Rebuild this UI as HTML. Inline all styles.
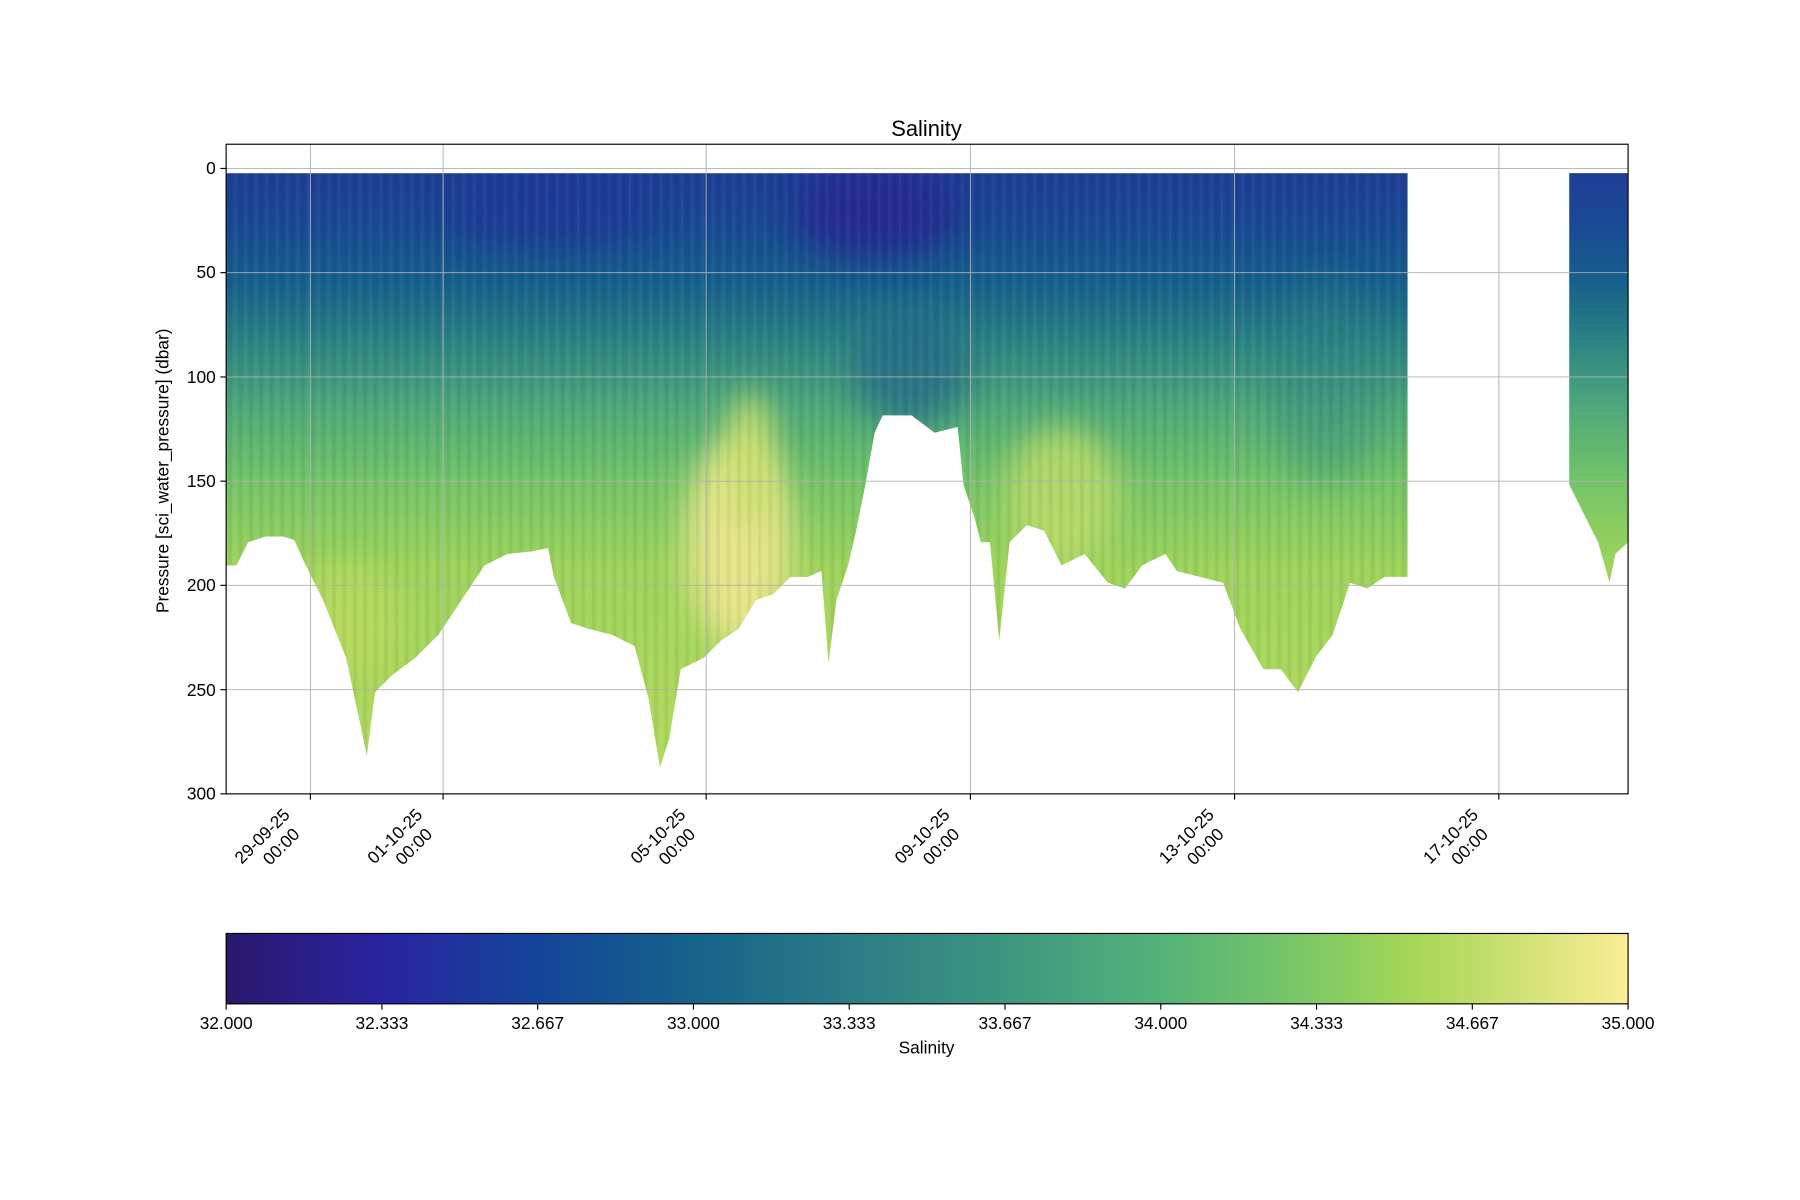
<!DOCTYPE html>
<html><head><meta charset="utf-8"><style>
html,body{margin:0;padding:0;background:#fff;}
svg{display:block;font-family:"Liberation Sans","DejaVu Sans",sans-serif;}
</style></head><body>
<svg width="1800" height="1200" viewBox="0 0 1560 1040" xmlns="http://www.w3.org/2000/svg">
<defs>
<linearGradient id="depth" gradientUnits="userSpaceOnUse" x1="0" y1="146" x2="0" y2="640">
<stop offset="0" stop-color="#1f3d96"/>
<stop offset="0.1" stop-color="#194a95"/>
<stop offset="0.2" stop-color="#16608c"/>
<stop offset="0.3" stop-color="#2a8284"/>
<stop offset="0.42" stop-color="#4ea97a"/>
<stop offset="0.55" stop-color="#74c468"/>
<stop offset="0.7" stop-color="#9ed45c"/>
<stop offset="1" stop-color="#b0d85c"/>
</linearGradient>
<linearGradient id="cb" x1="0" y1="0" x2="1" y2="0">
<stop offset="0" stop-color="#2a186c"/>
<stop offset="0.11" stop-color="#2a23a0"/>
<stop offset="0.22" stop-color="#14449a"/>
<stop offset="0.33" stop-color="#15628b"/>
<stop offset="0.44" stop-color="#2a7b86"/>
<stop offset="0.55" stop-color="#3c9580"/>
<stop offset="0.66" stop-color="#51b17a"/>
<stop offset="0.77" stop-color="#7bc866"/>
<stop offset="0.85" stop-color="#a8d756"/>
<stop offset="1" stop-color="#fbed96"/>
</linearGradient>
<pattern id="streak" width="9" height="40" patternUnits="userSpaceOnUse">
<rect x="0" y="0" width="3" height="40" fill="#000" opacity="0.05"/>
<rect x="5" y="0" width="2" height="40" fill="#fff" opacity="0.04"/>
</pattern>
<filter id="blur" x="-50%" y="-50%" width="200%" height="200%"><feGaussianBlur stdDeviation="14"/></filter>
<clipPath id="dataclip">
<path d="M196,150 L1220,150 L1220,500 L1200,500 L1185,510 L1170,505 L1155,550 L1140,570 L1125,600 L1110,580 L1095,580 L1075,545 L1060,505 L1040,500 L1020,495 L1010,480 L990,490 L975,510 L960,505 L940,480 L920,490 L905,460 L890,455 L875,470 L866,555 L858,470 L850,470 L845,450 L835,420 L830,370 L810,375 L790,360 L765,360 L758,375 L750,420 L742,460 L735,490 L725,520 L718,575 L712,495 L700,500 L685,500 L670,515 L655,520 L640,545 L625,555 L610,570 L590,580 L580,640 L572,665 L562,605 L550,560 L530,550 L510,545 L495,540 L480,500 L475,475 L460,478 L440,480 L420,490 L400,520 L380,550 L360,570 L340,585 L325,600 L318,655 L300,570 L280,520 L265,490 L255,468 L245,465 L230,465 L215,470 L205,490 L196,490 Z"/>
</clipPath>
</defs>
<rect width="1560" height="1040" fill="#fff"/>
<text x="803" y="118" font-size="19" text-anchor="middle">Salinity</text>
<g clip-path="url(#dataclip)">
<rect x="196" y="140" width="1030" height="540" fill="url(#depth)"/>
<ellipse cx="640" cy="470" rx="45" ry="90" fill="#e6e58a" filter="url(#blur)"/>
<ellipse cx="650" cy="400" rx="20" ry="60" fill="#c8df70" filter="url(#blur)"/>
<ellipse cx="920" cy="430" rx="50" ry="60" fill="#bedd6a" filter="url(#blur)" opacity="0.8"/>
<ellipse cx="300" cy="540" rx="50" ry="50" fill="#b8da5e" filter="url(#blur)" opacity="0.8"/>
<ellipse cx="760" cy="185" rx="70" ry="40" fill="#2a238f" filter="url(#blur)" opacity="0.7"/>
<ellipse cx="480" cy="185" rx="90" ry="30" fill="#24309a" filter="url(#blur)" opacity="0.5"/>
<ellipse cx="790" cy="320" rx="50" ry="50" fill="#22678a" filter="url(#blur)" opacity="0.7"/>
<ellipse cx="1150" cy="330" rx="50" ry="90" fill="#2a8284" filter="url(#blur)" opacity="0.3"/>
<rect x="196" y="140" width="1030" height="540" fill="url(#streak)"/>
</g>
<path d="M1360,150 L1411,150 L1411,470 L1400,480 L1395,505 L1385,470 L1375,450 L1360,420 Z" fill="url(#depth)"/>
<g stroke="#b0b0b0" stroke-width="0.8">
<line x1="196" x2="1411" y1="146" y2="146"/><line x1="196" x2="1411" y1="236.3" y2="236.3"/>
<line x1="196" x2="1411" y1="326.7" y2="326.7"/><line x1="196" x2="1411" y1="417" y2="417"/>
<line x1="196" x2="1411" y1="507.3" y2="507.3"/><line x1="196" x2="1411" y1="597.7" y2="597.7"/>
<line y1="125" y2="688" x1="269" x2="269"/><line y1="125" y2="688" x1="384" x2="384"/>
<line y1="125" y2="688" x1="612" x2="612"/><line y1="125" y2="688" x1="841" x2="841"/>
<line y1="125" y2="688" x1="1070" x2="1070"/><line y1="125" y2="688" x1="1299" x2="1299"/>
</g>
<rect x="196" y="125" width="1215" height="563" fill="none" stroke="#000" stroke-width="1"/>
<g stroke="#000"><line x1="191" x2="196" y1="146" y2="146"/><line x1="191" x2="196" y1="236.3" y2="236.3"/><line x1="191" x2="196" y1="326.7" y2="326.7"/><line x1="191" x2="196" y1="417" y2="417"/><line x1="191" x2="196" y1="507.3" y2="507.3"/><line x1="191" x2="196" y1="597.7" y2="597.7"/><line x1="191" x2="196" y1="688" y2="688"/>
<line x1="269" x2="269" y1="688" y2="693"/><line x1="384" x2="384" y1="688" y2="693"/><line x1="612" x2="612" y1="688" y2="693"/><line x1="841" x2="841" y1="688" y2="693"/><line x1="1070" x2="1070" y1="688" y2="693"/><line x1="1299" x2="1299" y1="688" y2="693"/></g>
<g font-size="15" text-anchor="end">
<text x="187" y="151">0</text><text x="187" y="241">50</text><text x="187" y="332">100</text><text x="187" y="422">150</text><text x="187" y="512">200</text><text x="187" y="603">250</text><text x="187" y="693">300</text>
</g>
<text transform="translate(146,408) rotate(-90)" font-size="15" text-anchor="middle">Pressure [sci_water_pressure] (dbar)</text>
<g font-size="15" text-anchor="end">
<g transform="translate(252,707) rotate(-45)"><text x="0" y="0">29-09-25</text><text x="-6" y="18">00:00</text></g>
<g transform="translate(367,707) rotate(-45)"><text x="0" y="0">01-10-25</text><text x="-6" y="18">00:00</text></g>
<g transform="translate(595,707) rotate(-45)"><text x="0" y="0">05-10-25</text><text x="-6" y="18">00:00</text></g>
<g transform="translate(824,707) rotate(-45)"><text x="0" y="0">09-10-25</text><text x="-6" y="18">00:00</text></g>
<g transform="translate(1053,707) rotate(-45)"><text x="0" y="0">13-10-25</text><text x="-6" y="18">00:00</text></g>
<g transform="translate(1282,707) rotate(-45)"><text x="0" y="0">17-10-25</text><text x="-6" y="18">00:00</text></g>
</g>
<rect x="196" y="809" width="1215" height="61" fill="url(#cb)" stroke="#000" stroke-width="1"/>
<g stroke="#000"><line x1="196" x2="196" y1="870" y2="875"/><line x1="331" x2="331" y1="870" y2="875"/><line x1="466" x2="466" y1="870" y2="875"/><line x1="601" x2="601" y1="870" y2="875"/><line x1="736" x2="736" y1="870" y2="875"/><line x1="871" x2="871" y1="870" y2="875"/><line x1="1006" x2="1006" y1="870" y2="875"/><line x1="1141" x2="1141" y1="870" y2="875"/><line x1="1276" x2="1276" y1="870" y2="875"/><line x1="1411" x2="1411" y1="870" y2="875"/></g>
<g font-size="15" text-anchor="middle">
<text x="196" y="892">32.000</text><text x="331" y="892">32.333</text><text x="466" y="892">32.667</text><text x="601" y="892">33.000</text><text x="736" y="892">33.333</text><text x="871" y="892">33.667</text><text x="1006" y="892">34.000</text><text x="1141" y="892">34.333</text><text x="1276" y="892">34.667</text><text x="1411" y="892">35.000</text>
<text x="803" y="913">Salinity</text>
</g>
</svg>
</body></html>
